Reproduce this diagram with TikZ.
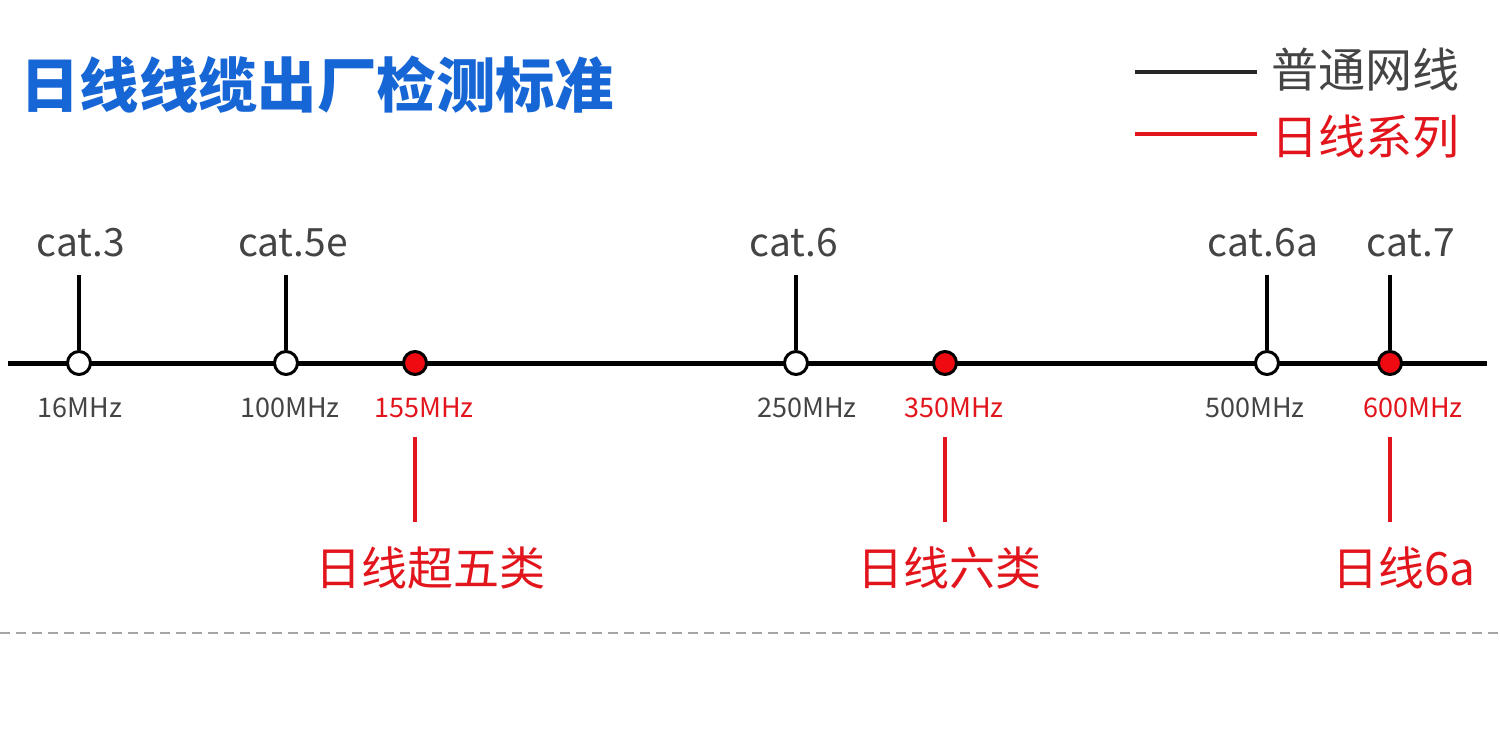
\documentclass[tikz,border=0pt]{standalone}
\usepackage{fontspec}
\newfontfamily\cjk{Noto Sans CJK SC}
\definecolor{titleblue}{HTML}{1766D6}
\definecolor{rjred}{HTML}{E2141C}
\definecolor{dotred}{HTML}{EE0A10}
\definecolor{txtgray}{HTML}{444444}

\begin{document}
\begin{tikzpicture}[x=0.5pt,y=-0.5pt,font=\cjk,
  opendot/.style={circle,draw=black,line width=1.5pt,fill=white,minimum size=11.5pt,inner sep=0pt},
  reddot/.style={opendot,fill=dotred},
  catlbl/.style={text=txtgray,inner sep=0pt,font=\cjk\fontsize{19.5}{22}\selectfont},
  freqlbl/.style={text=txtgray,inner sep=0pt,font=\cjk\fontsize{13.5}{15}\selectfont},
  redfreq/.style={freqlbl,text=rjred},
  rjlbl/.style={text=rjred,inner sep=0pt,font=\cjk\fontsize{23}{25}\selectfont},
  legtxt/.style={inner sep=0pt,anchor=west,font=\cjk\fontsize{23.5}{25}\selectfont},
  tick/.style={line width=2pt,black,shorten >=16pt},
  reddrop/.style={line width=2pt,rjred,shorten <=30.5pt,shorten >=23pt}]
  \useasboundingbox (0,0) rectangle (1500,745);

  % Title
  \node[inner sep=0pt,anchor=west,text=titleblue,font=\cjk\bfseries\fontsize{29.7}{32}\selectfont]
    (title) at (20,85) {日线线缆出厂检测标准};

  % Legend
  \node[legtxt,text=txtgray] (leg1) at (1271,70) {普通网线};
  \node[legtxt,text=rjred] (leg2) at (1271,137) {日线系列};
  \coordinate (leg1s) at (1135,72);
  \coordinate (leg2s) at (1135,134);
  \draw[line width=2.4pt,black!85,shorten >=7pt] (leg1s) -- (leg1s -| leg1.west);
  \draw[line width=2.4pt,rjred,shorten >=7pt] (leg2s) -- (leg2s -| leg2.west);

  % Frequency axis
  \coordinate (axL) at (8,363);
  \coordinate (axR) at (1487,363);
  \draw[line width=2.5pt,black] (axL) -- (axR);

  % Points on the axis
  \node[opendot] (d16)  at (79,363)   {};
  \node[opendot] (d100) at (286,363)  {};
  \node[reddot]  (d155) at (415,363)  {};
  \node[opendot] (d250) at (796,363)  {};
  \node[reddot]  (d350) at (945,363)  {};
  \node[opendot] (d500) at (1267,363) {};
  \node[reddot]  (d600) at (1390,363) {};

  % Cable categories
  \node[catlbl] (c3)  at (81,243)   {cat.3};
  \node[catlbl] (c5e) at (293,243)  {cat.5e};
  \node[catlbl] (c6)  at (794,243)  {cat.6};
  \node[catlbl] (c6a) at (1263,243) {cat.6a};
  \node[catlbl] (c7)  at (1411,243) {cat.7};
  \draw[tick] (d16)  -- (d16 |- c3.center);
  \draw[tick] (d100) -- (d100 |- c5e.center);
  \draw[tick] (d250) -- (d250 |- c6.center);
  \draw[tick] (d500) -- (d500 |- c6a.center);
  \draw[tick] (d600) -- (d600 |- c7.center);

  % Frequencies
  \node[freqlbl] (m16)  at (80,408)   {16MHz};
  \node[freqlbl] (m100) at (290,408)  {100MHz};
  \node[redfreq] (m155) at (424,408)  {155MHz};
  \node[freqlbl] (m250) at (807,408)  {250MHz};
  \node[redfreq] (m350) at (954,408)  {350MHz};
  \node[freqlbl] (m500) at (1255,408) {500MHz};
  \node[redfreq] (m600) at (1413,408) {600MHz};

  % Rixian series
  \node[rjlbl] (j5)  at (430,568)  {日线超五类};
  \node[rjlbl] (j6)  at (949,568)  {日线六类};
  \node[rjlbl] (j6a) at (1404,568) {日线6a};
  \draw[reddrop] (d155) -- (d155 |- j5.center);
  \draw[reddrop] (d350) -- (d350 |- j6.center);
  \draw[reddrop] (d600) -- (d600 |- j6a.center);

  % Separator
  \coordinate (sepL) at (0,633);
  \coordinate (sepR) at (1500,633);
  \draw[gray!70,line width=1pt,dash pattern=on 5pt off 3pt] (sepL) -- (sepR);
\end{tikzpicture}
\end{document}
